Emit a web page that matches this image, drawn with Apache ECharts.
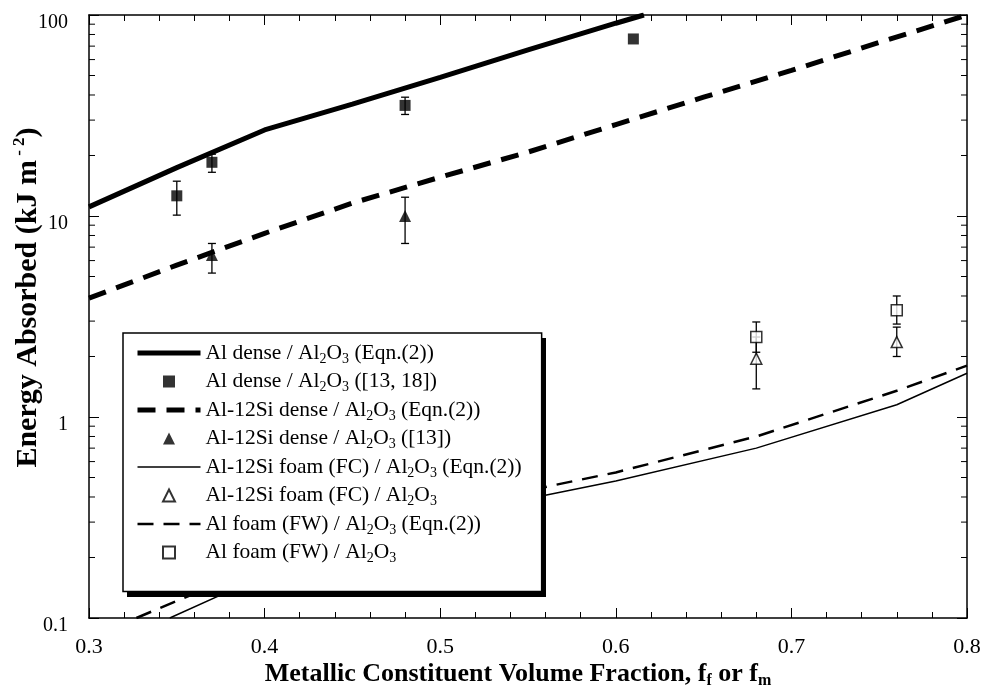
<!DOCTYPE html>
<html>
<head>
    <meta charset="utf-8">
    <script src="https://cdn.jsdelivr.net/npm/echarts@6/dist/echarts.min.js"></script>
</head>
<body style="margin:0;background:#fff;">
    <div id="container" style="width:983px;height:694px;"></div>
    <script type="text/javascript">
        // model curves (Eqn.(2))
        var alDenseEqn = [[0.3, 11.1], [0.35, 17.4], [0.4, 26.8], [0.45, 36], [0.5, 49], [0.55, 67], [0.6, 91], [0.616, 100]];
        var siDenseEqn = [[0.3, 3.9], [0.35, 5.7], [0.4, 8.2], [0.45, 11.6], [0.5, 15.6], [0.55, 20.8], [0.6, 28.5], [0.65, 39], [0.7, 53], [0.75, 73], [0.8, 100]];
        var siFoamEqn = [[0.346, 0.1], [0.39, 0.149], [0.45, 0.24], [0.5, 0.32], [0.6, 0.48], [0.68, 0.7], [0.76, 1.15], [0.8, 1.65]];
        var alFoamEqn = [[0.327, 0.1], [0.369, 0.143], [0.45, 0.26], [0.5, 0.35], [0.6, 0.53], [0.68, 0.8], [0.76, 1.35], [0.8, 1.8]];
        // measured points [x, value, low, high]
        var alDenseData = [[0.35, 12.6, 10.1, 14.9], [0.37, 18.5, 16.5, 20.3], [0.48, 35.5, 32, 39], [0.61, 76, 76, 76]];
        var siDenseData = [[0.37, 6.4, 5.2, 7.3], [0.48, 10, 7.3, 12.4]];
        var siFoamData = [[0.68, 1.95, 1.38, 2.5], [0.76, 2.36, 2.0, 2.8]];
        var alFoamData = [[0.68, 2.5, 2.1, 2.97], [0.76, 3.4, 2.9, 4.0]];
        var minorTickValues = [0.2, 0.3, 0.4, 0.5, 0.6, 0.7, 0.8, 0.9, 2, 3, 4, 5, 6, 7, 8, 9, 20, 30, 40, 50, 60, 70, 80, 90];

        var font = 'Liberation Serif';
        var names = [
            'Al dense / Al2O3 (Eqn.(2))',
            'Al dense / Al2O3 ([13, 18])',
            'Al-12Si dense / Al2O3 (Eqn.(2))',
            'Al-12Si dense / Al2O3 ([13])',
            'Al-12Si foam (FC) / Al2O3 (Eqn.(2))',
            'Al-12Si foam (FC) / Al2O3',
            'Al foam (FW) / Al2O3 (Eqn.(2))',
            'Al foam (FW) / Al2O3'
        ];
        var squareIcon = 'path://M0,0L10,0L10,10L0,10Z';
        var triangleIcon = 'path://M5,0L10,10L0,10Z';

        function pts(arr) {
            return arr.map(function (d) { return [d[0], d[1]]; });
        }
        function bars(arr) {
            return arr.filter(function (d) { return d[3] > d[2]; }).map(function (d) { return [d[0], d[2], d[3]]; });
        }

        function errorBar(params, api) {
            var x = api.value(0);
            var lo = api.coord([x, api.value(1)]);
            var hi = api.coord([x, api.value(2)]);
            var st = { stroke: '#000', lineWidth: 1.3 };
            return {
                type: 'group',
                children: [
                    { type: 'line', shape: { x1: lo[0], y1: lo[1], x2: hi[0], y2: hi[1] }, style: st },
                    { type: 'line', shape: { x1: lo[0] - 4, y1: lo[1], x2: lo[0] + 4, y2: lo[1] }, style: st },
                    { type: 'line', shape: { x1: hi[0] - 4, y1: hi[1], x2: hi[0] + 4, y2: hi[1] }, style: st }
                ]
            };
        }

        function minorTick(params, api) {
            var p = api.coord([0.3, api.value(0)]);
            var cs = params.coordSys;
            var st = { stroke: '#000', lineWidth: 1 };
            return {
                type: 'group',
                children: [
                    { type: 'line', shape: { x1: cs.x, y1: p[1], x2: cs.x + 6, y2: p[1] }, style: st },
                    { type: 'line', shape: { x1: cs.x + cs.width, y1: p[1], x2: cs.x + cs.width - 6, y2: p[1] }, style: st }
                ]
            };
        }

        var xBase = {
            type: 'value', min: 0.3, max: 0.8, interval: 0.1,
            axisLine: { lineStyle: { color: '#000', width: 1.5 } },
            axisTick: { inside: true, length: 10, lineStyle: { color: '#000' } },
            minorTick: { show: true, splitNumber: 5, length: 6, lineStyle: { color: '#000' } },
            splitLine: { show: false }
        };
        var yBase = {
            type: 'log', logBase: 10, min: 0.1, max: 100,
            axisLine: { show: true, lineStyle: { color: '#000', width: 1.5 } },
            axisTick: { inside: true, length: 10, lineStyle: { color: '#000' } },
            splitLine: { show: false }
        };

        function lineLegend(i, width, type) {
            return { name: names[i], itemStyle: { opacity: 0 }, lineStyle: { color: '#000', width: width, type: type } };
        }

        var myChart = echarts.init(document.getElementById('container'));
        var option = {
            animation: false,
            textStyle: { fontFamily: font, color: '#000' },
            grid: { left: 89, right: 16, top: 15, bottom: 76, outerBoundsMode: 'none', containLabel: false },
            graphic: [{
                type: 'rect', z: 3, silent: true,
                shape: { x: 127, y: 338, width: 419, height: 259 },
                style: { fill: '#000' }
            }],
            xAxis: [
                Object.assign({}, xBase, {
                    position: 'bottom',
                    axisLabel: { color: '#000', fontFamily: font, fontSize: 22, margin: 18 },
                    name: 'Metallic Constituent Volume Fraction, f{sub|f} or f{sub|m}',
                    nameLocation: 'middle',
                    nameGap: 41,
                    nameMoveOverlap: false,
                    nameTextStyle: {
                        fontFamily: font, fontWeight: 'bold', fontSize: 26, color: '#000', lineHeight: 30,
                        padding: [0, 20, 0, 0],
                        rich: { sub: { fontFamily: font, fontWeight: 'bold', fontSize: 16, lineHeight: 10, verticalAlign: 'bottom' } }
                    }
                }),
                Object.assign({}, xBase, { position: 'top', axisLabel: { show: false } })
            ],
            yAxis: [
                Object.assign({}, yBase, {
                    position: 'left',
                    axisLabel: {
                        color: '#000', fontFamily: font, fontSize: 20, margin: 21,
                        formatter: function (v) { return '{a|' + v + '}'; },
                        rich: { a: { fontFamily: font, fontSize: 20, color: '#000', padding: [16, 0, 0, 0] } }
                    },
                    name: 'Energy Absorbed (kJ m{sup| - 2})',
                    nameLocation: 'middle',
                    nameRotate: 90,
                    nameGap: 44,
                    nameMoveOverlap: false,
                    nameTextStyle: {
                        fontFamily: font, fontWeight: 'bold', fontSize: 30, color: '#000', lineHeight: 34,
                        padding: [0, 0, 0, 38],
                        rich: { sup: { fontFamily: font, fontWeight: 'bold', fontSize: 17, lineHeight: 12, verticalAlign: 'top' } }
                    }
                }),
                Object.assign({}, yBase, { position: 'right', axisLabel: { show: false } })
            ],
            legend: {
                data: [
                    lineLegend(0, 5, 'solid'),
                    { name: names[1], icon: squareIcon },
                    lineLegend(2, 5, [18, 11]),
                    { name: names[3], icon: triangleIcon },
                    lineLegend(4, 1.5, 'solid'),
                    { name: names[5], icon: triangleIcon },
                    lineLegend(6, 2.5, [16, 10]),
                    { name: names[7], icon: squareIcon }
                ],
                z: 5,
                orient: 'vertical',
                left: 123,
                top: 333,
                padding: [7, 20, 26, 12],
                itemWidth: 63,
                itemHeight: 12,
                itemGap: 2.5,
                symbolKeepAspect: true,
                backgroundColor: '#fff',
                borderColor: '#000',
                borderWidth: 1.5,
                borderRadius: 0,
                selectedMode: false,
                formatter: function (name) {
                    return name.replace('Al2O3', 'Al{s|2}O{s|3}');
                },
                textStyle: {
                    fontFamily: font, fontSize: 21.5, color: '#000', lineHeight: 26,
                    rich: { s: { fontFamily: font, fontSize: 14, color: '#000', lineHeight: 14, verticalAlign: 'bottom' } }
                }
            },
            series: [
                { name: names[0], type: 'line', data: alDenseEqn, symbol: 'none', z: 3,
                  itemStyle: { color: '#000' }, lineStyle: { color: '#000', width: 5 } },
                { name: names[1], type: 'scatter', data: pts(alDenseData), symbol: 'rect', symbolSize: 11, z: 5,
                  itemStyle: { color: '#000' } },
                { name: names[2], type: 'line', data: siDenseEqn, symbol: 'none', z: 3,
                  itemStyle: { color: '#000' }, lineStyle: { color: '#000', width: 5, type: [18, 11] } },
                { name: names[3], type: 'scatter', data: pts(siDenseData), symbol: 'triangle', symbolSize: 12, z: 5,
                  itemStyle: { color: '#000' } },
                { name: names[4], type: 'line', data: siFoamEqn, symbol: 'none', z: 3,
                  itemStyle: { color: '#000' }, lineStyle: { color: '#000', width: 1.5 } },
                { name: names[5], type: 'scatter', data: pts(siFoamData), symbol: 'triangle', symbolSize: 11, z: 5,
                  itemStyle: { color: '#fff', borderColor: '#000', borderWidth: 1.5 } },
                { name: names[6], type: 'line', data: alFoamEqn, symbol: 'none', z: 3,
                  itemStyle: { color: '#000' }, lineStyle: { color: '#000', width: 2.5, type: [16, 10] } },
                { name: names[7], type: 'scatter', data: pts(alFoamData), symbol: 'rect', symbolSize: 11, z: 5,
                  itemStyle: { color: '#fff', borderColor: '#000', borderWidth: 1.5 } },
                { type: 'custom', silent: true, z: 4, renderItem: errorBar,
                  encode: { x: 0, y: [1, 2] },
                  data: bars(alDenseData).concat(bars(siDenseData), bars(siFoamData), bars(alFoamData)) },
                { type: 'custom', silent: true, z: 2, renderItem: minorTick,
                  encode: { y: 0 },
                  data: minorTickValues.map(function (v) { return [v]; }) }
            ]
        };
        myChart.setOption(option);
    </script>
</body>
</html>
